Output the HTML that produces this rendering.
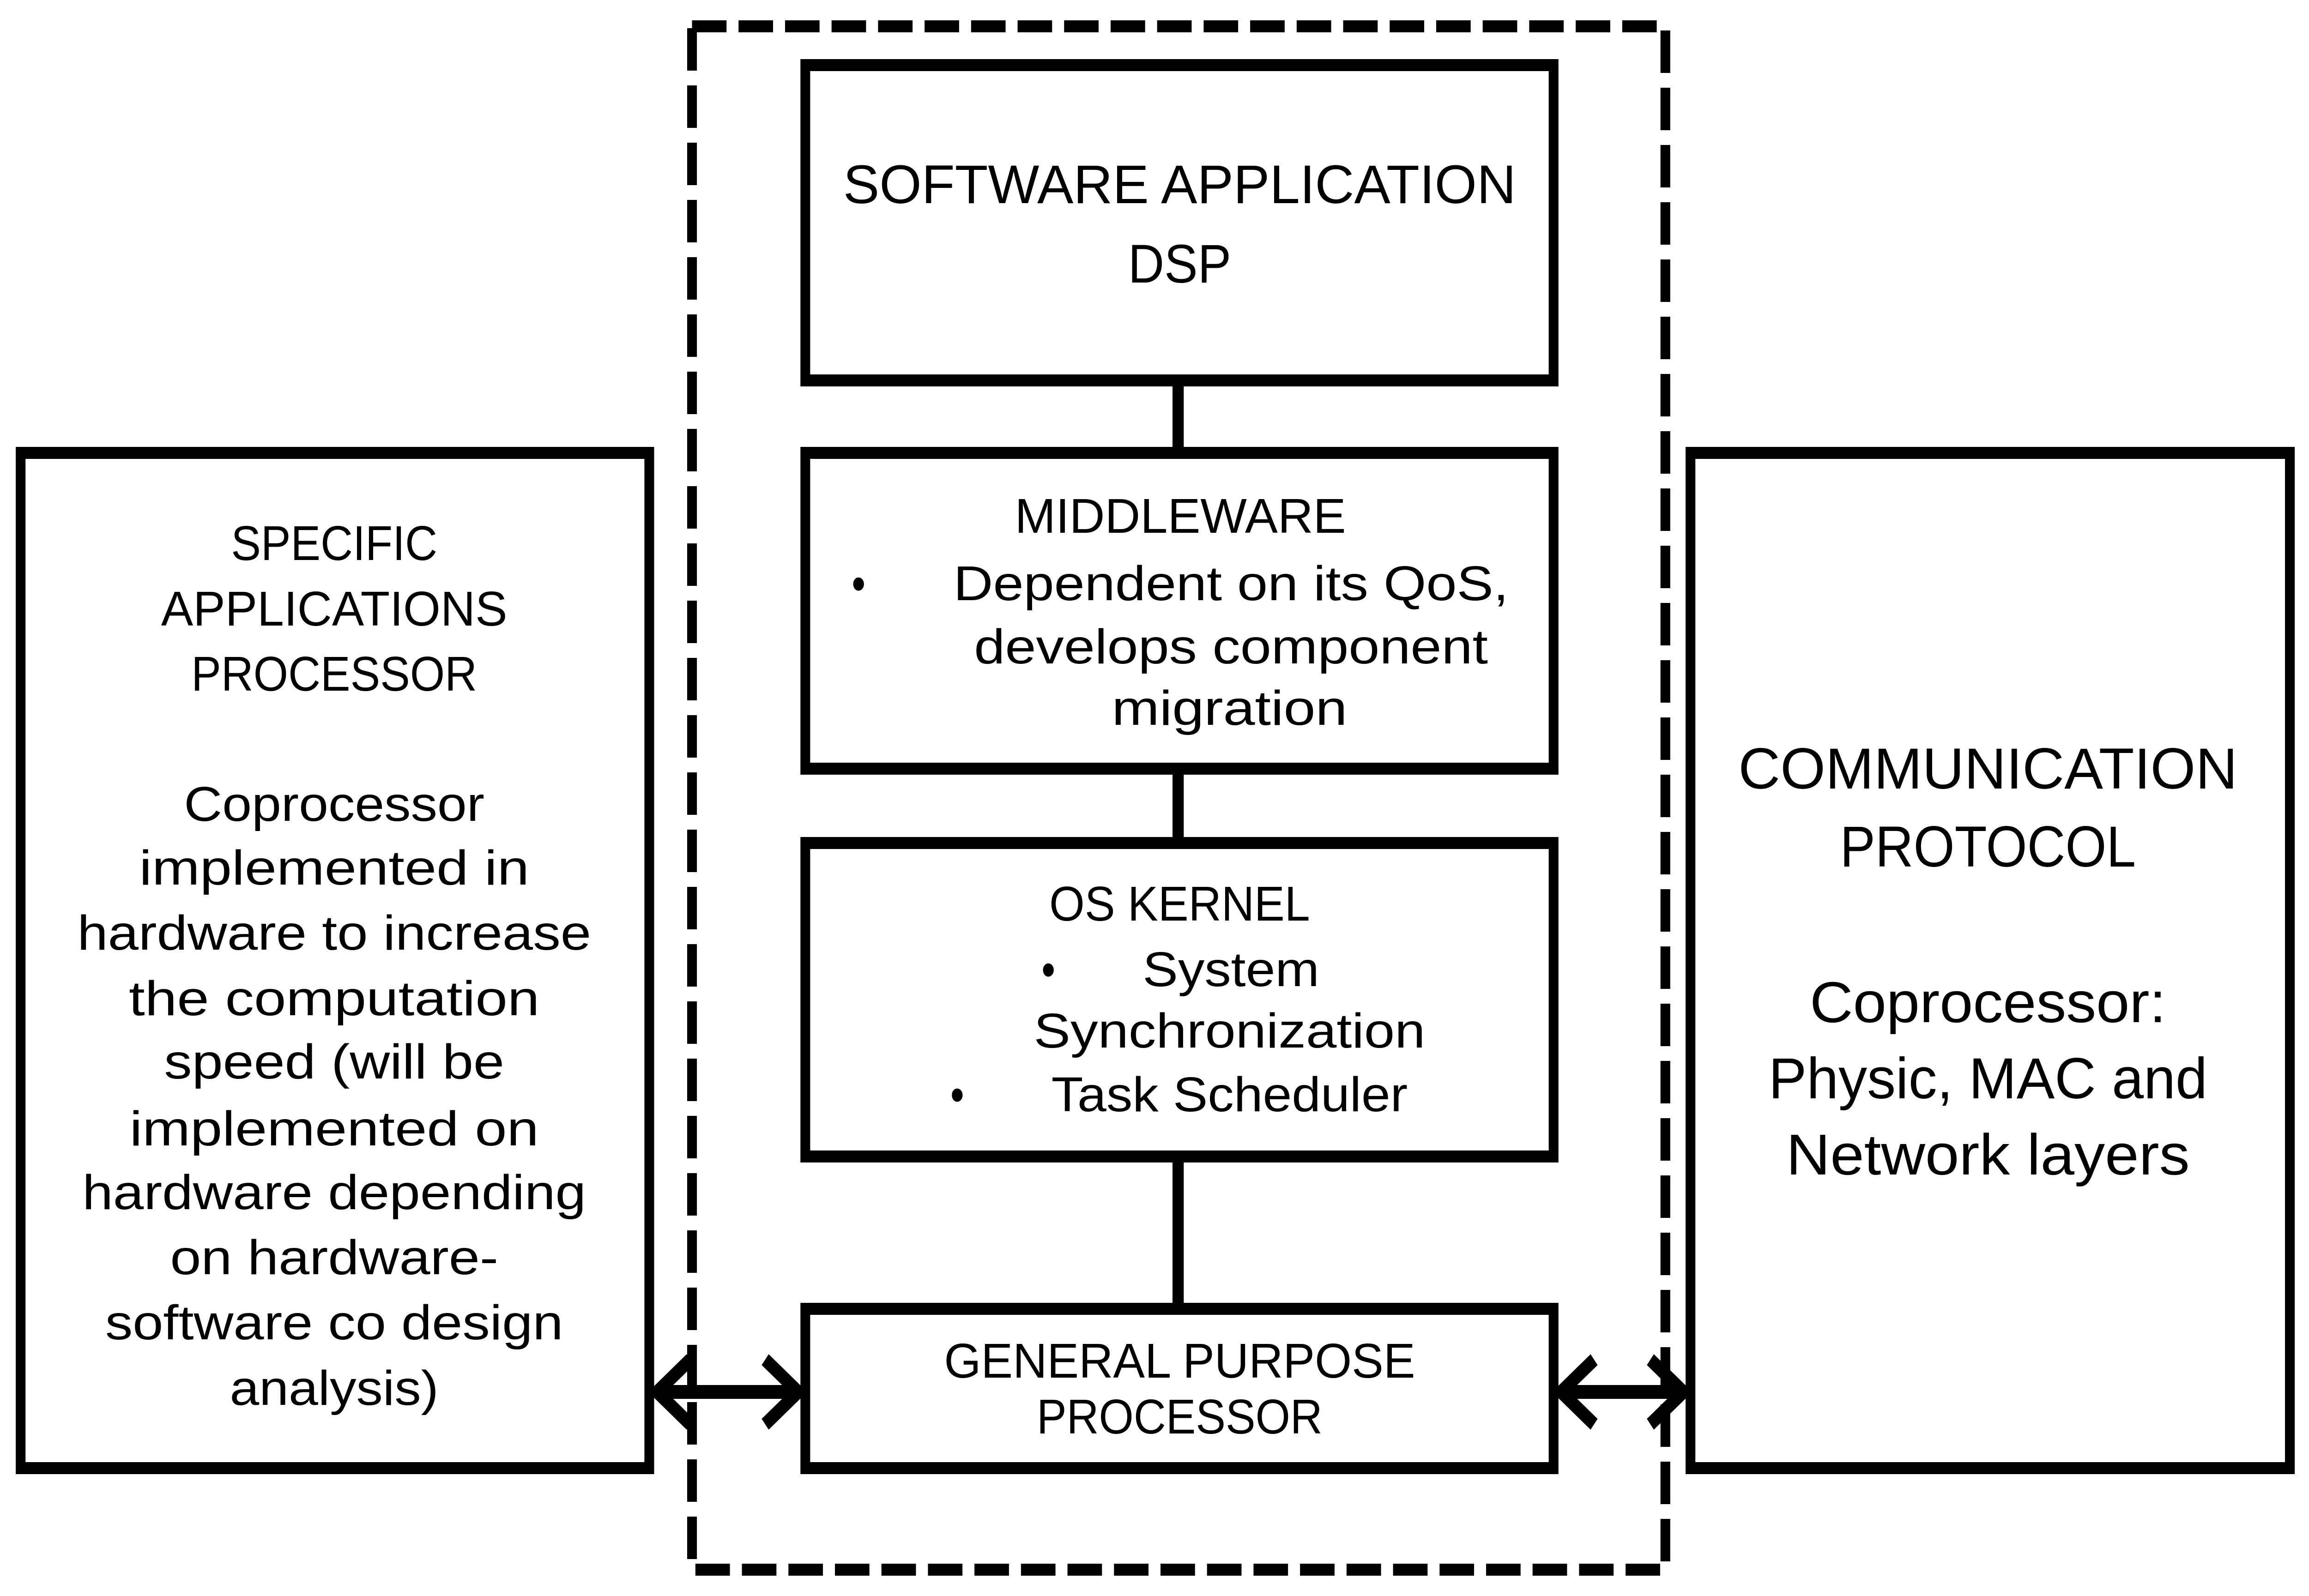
<!DOCTYPE html>
<html><head><meta charset="utf-8"><style>
html,body{margin:0;padding:0;background:#fff;width:100%;height:100%;overflow:hidden;}
svg{display:block;position:fixed;left:0;top:0;width:100vw;height:100vh;}
text{font-family:"Liberation Sans",sans-serif;fill:#000;}
</style></head><body>
<svg viewBox="0 0 6156 3457" preserveAspectRatio="none" xmlns="http://www.w3.org/2000/svg">
<rect x="0" y="0" width="6156" height="3457" fill="#fff"/>
<rect x="1845" y="57" width="2595" height="3343" fill="none" stroke="#000" stroke-width="26" stroke-dasharray="92 32"/>
<g stroke="#000" stroke-width="30">
<line x1="3141" y1="824" x2="3141" y2="981"/>
<line x1="3141" y1="1665" x2="3141" y2="1826"/>
<line x1="3141" y1="2505" x2="3141" y2="2835"/>
</g>
<g fill="none" stroke="#000" stroke-width="26">
<rect x="2147" y="141" width="1995" height="683"/>
<rect x="2147" y="981" width="1995" height="684"/>
<rect x="2147" y="1826" width="1995" height="679"/>
<rect x="2147" y="2835" width="1995" height="345"/>
<rect x="55" y="981" width="1676" height="2199"/>
<rect x="4507" y="981" width="1598" height="2199"/>
</g>
<g stroke="#000" stroke-width="30" fill="none">
<line x1="1750" y1="3015" x2="2130" y2="3015"/>
<polyline points="1840,2945 1752,3015 1840,3085"/>
<polyline points="2040,2945 2128,3015 2040,3085"/>
<line x1="4160" y1="3015" x2="4490" y2="3015"/>
<polyline points="4250,2945 4162,3015 4250,3085"/>
<polyline points="4400,2945 4488,3015 4400,3085"/>
</g>
<g text-anchor="middle">
<text x="3145" y="440" font-size="118" textLength="1794" lengthAdjust="spacingAndGlyphs">SOFTWARE APPLICATION</text>
<text x="3145" y="612" font-size="118" textLength="275" lengthAdjust="spacingAndGlyphs">DSP</text>
<text x="3147" y="1154" font-size="106" textLength="883" lengthAdjust="spacingAndGlyphs">MIDDLEWARE</text>
<text x="2289" y="1300" font-size="106">•</text>
<text x="3282" y="1300" font-size="106" textLength="1480" lengthAdjust="spacingAndGlyphs">Dependent  on its QoS,</text>
<text x="3282" y="1437" font-size="106" textLength="1370" lengthAdjust="spacingAndGlyphs">develops component</text>
<text x="3278" y="1570" font-size="106" textLength="628" lengthAdjust="spacingAndGlyphs">migration</text>
<text x="3145" y="1994" font-size="106" textLength="695" lengthAdjust="spacingAndGlyphs">OS KERNEL</text>
<text x="2795" y="2136" font-size="106">•</text>
<text x="3282" y="2136" font-size="106" textLength="471" lengthAdjust="spacingAndGlyphs">System</text>
<text x="3278" y="2269" font-size="106" textLength="1044" lengthAdjust="spacingAndGlyphs">Synchronization</text>
<text x="2552" y="2407" font-size="106">•</text>
<text x="3278" y="2407" font-size="106" textLength="950" lengthAdjust="spacingAndGlyphs">Task Scheduler</text>
<text x="3145" y="2984" font-size="106" textLength="1256" lengthAdjust="spacingAndGlyphs">GENERAL  PURPOSE</text>
<text x="3145" y="3105" font-size="106" textLength="762" lengthAdjust="spacingAndGlyphs">PROCESSOR</text>
<text x="891" y="1213" font-size="106" textLength="550" lengthAdjust="spacingAndGlyphs">SPECIFIC</text>
<text x="891" y="1355" font-size="106" textLength="923" lengthAdjust="spacingAndGlyphs">APPLICATIONS</text>
<text x="891" y="1496" font-size="106" textLength="762" lengthAdjust="spacingAndGlyphs">PROCESSOR</text>
<text x="891" y="1778" font-size="106" textLength="801" lengthAdjust="spacingAndGlyphs">Coprocessor</text>
<text x="891" y="1916" font-size="106" textLength="1040" lengthAdjust="spacingAndGlyphs">implemented  in</text>
<text x="891" y="2057" font-size="106" textLength="1370" lengthAdjust="spacingAndGlyphs">hardware to increase</text>
<text x="891" y="2199" font-size="106" textLength="1095" lengthAdjust="spacingAndGlyphs">the computation</text>
<text x="891" y="2336" font-size="106" textLength="907" lengthAdjust="spacingAndGlyphs">speed (will be</text>
<text x="891" y="2481" font-size="106" textLength="1091" lengthAdjust="spacingAndGlyphs">implemented  on</text>
<text x="891" y="2619" font-size="106" textLength="1343" lengthAdjust="spacingAndGlyphs">hardware depending</text>
<text x="891" y="2760" font-size="106" textLength="875" lengthAdjust="spacingAndGlyphs">on hardware-</text>
<text x="891" y="2901" font-size="106" textLength="1221" lengthAdjust="spacingAndGlyphs">software co design</text>
<text x="891" y="3043" font-size="106" textLength="557" lengthAdjust="spacingAndGlyphs">analysis)</text>
<text x="5300" y="1708" font-size="125" textLength="1331" lengthAdjust="spacingAndGlyphs">COMMUNICATION</text>
<text x="5300" y="1877" font-size="125" textLength="789" lengthAdjust="spacingAndGlyphs">PROTOCOL</text>
<text x="5300" y="2214" font-size="125" textLength="950" lengthAdjust="spacingAndGlyphs">Coprocessor:</text>
<text x="5300" y="2379" font-size="125" textLength="1170" lengthAdjust="spacingAndGlyphs">Physic, MAC and</text>
<text x="5300" y="2544" font-size="125" textLength="1076" lengthAdjust="spacingAndGlyphs">Network layers</text>
</g>
</svg>
</body></html>
